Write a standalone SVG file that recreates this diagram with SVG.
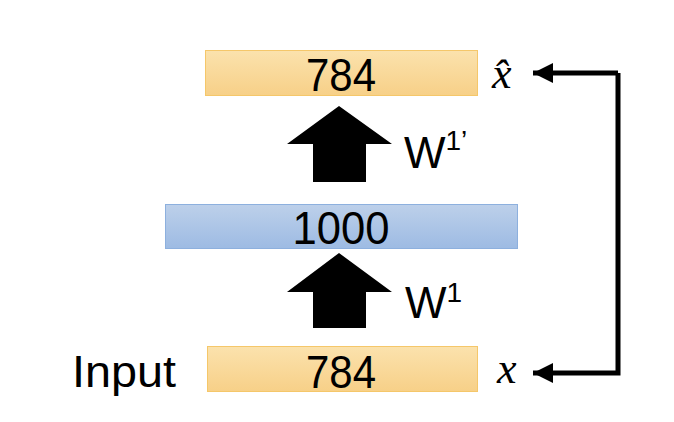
<svg xmlns="http://www.w3.org/2000/svg" width="674" height="422" viewBox="0 0 674 422">
<defs>
<linearGradient id="og" x1="0" y1="0" x2="0" y2="1"><stop offset="0" stop-color="#fbe2ad"/><stop offset="1" stop-color="#f7d088"/></linearGradient>
<linearGradient id="bg" x1="0" y1="0" x2="0" y2="1"><stop offset="0" stop-color="#bdd0ea"/><stop offset="1" stop-color="#9dbbe3"/></linearGradient>
<marker id="ah" markerWidth="20" markerHeight="20" viewBox="0 0 20 20" refX="20" refY="10" orient="auto" markerUnits="userSpaceOnUse"><path d="M0,0 L20,10 L0,20 Z" fill="#000"/></marker>
</defs>
<style>
.lbl{font-family:"Liberation Sans",Arial,sans-serif;font-size:46px;fill:#000}
.side{font-family:"Liberation Sans",Arial,sans-serif;font-size:44px;fill:#000}
.sup{font-family:"Liberation Sans",Arial,sans-serif;font-size:28px;fill:#000}
.math{font-family:"Liberation Serif","DejaVu Serif",serif;font-style:italic;font-size:44px;fill:#000}
.ob{fill:url(#og);stroke:#f5c76a;stroke-width:1}
.bb{fill:url(#bg);stroke:#8db0de;stroke-width:1}
.conn{fill:none;stroke:#000;stroke-width:5}
</style>
<rect width="674" height="422" fill="#fff"/>
<g id="output">
<rect class="ob" x="205.5" y="50.5" width="272" height="45"/>
<text class="lbl" x="341" y="91" text-anchor="middle" textLength="70" lengthAdjust="spacingAndGlyphs">784</text>
</g>
<g id="hidden">
<rect class="bb" x="165.5" y="204.5" width="352" height="44"/>
<text class="lbl" x="341" y="244" text-anchor="middle" textLength="97" lengthAdjust="spacingAndGlyphs">1000</text>
</g>
<g id="input">
<rect class="ob" x="207.5" y="346.5" width="270" height="45"/>
<text class="lbl" x="341" y="388" text-anchor="middle" textLength="70" lengthAdjust="spacingAndGlyphs">784</text>
</g>
<g id="input-label"><text class="side" x="72" y="387" textLength="104" lengthAdjust="spacingAndGlyphs">Input</text></g>
<g id="xhat-label"><text class="math" x="492" y="88">x̂</text></g>
<g id="x-label"><text class="math" x="497" y="383">x</text></g>
<g id="w1prime">
<polygon points="339,106 392,144 366,144 366,182 313,182 313,144 287,144" fill="#000"/>
<text class="side" x="404" y="168">W<tspan class="sup" dy="-18">1’</tspan></text>
</g>
<g id="w1">
<polygon points="339,253 392,292 366,292 366,328 313,328 313,292 287,292" fill="#000"/>
<text class="side" x="405" y="318">W<tspan class="sup" dy="-16">1</tspan></text>
</g>
<g id="connectors">
<path class="conn" d="M618,73 L618,373 L533,373" marker-end="url(#ah)"/>
<path class="conn" d="M618,73 L533,73" marker-end="url(#ah)"/>
</g>
</svg>
